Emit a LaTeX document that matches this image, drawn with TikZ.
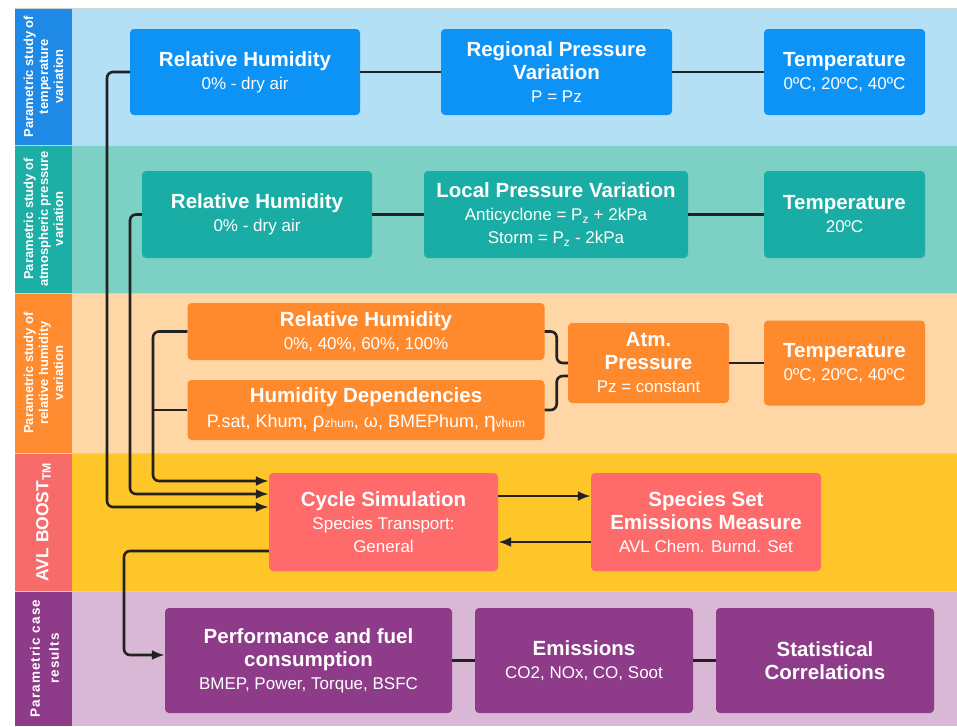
\documentclass[tikz,border=0pt]{standalone}
\usepackage{fontspec}
\setmainfont{Liberation Sans}
\usetikzlibrary{arrows.meta}

\definecolor{bandblue}{HTML}{B3E0F5}
\definecolor{stripblue}{HTML}{1E8AE6}
\definecolor{boxblue}{HTML}{0D93F5}
\definecolor{bandteal}{HTML}{7DD0C4}
\definecolor{stripteal}{HTML}{1DAEA6}
\definecolor{boxteal}{HTML}{1AADA5}
\definecolor{bandpeach}{HTML}{FFD7A6}
\definecolor{striporange}{HTML}{FF8B30}
\definecolor{boxorange}{HTML}{FF8A2D}
\definecolor{bandyellow}{HTML}{FFC629}
\definecolor{stripsalmon}{HTML}{F76B6B}
\definecolor{boxsalmon}{HTML}{FF6A6B}
\definecolor{bandlilac}{HTML}{D8B8D5}
\definecolor{strippurple}{HTML}{8E3B8A}
\definecolor{boxpurple}{HTML}{8E3B8A}
\definecolor{linkgray}{HTML}{222222}

\newcommand{\boxtitle}{\fontsize{20.5}{23}\selectfont\bfseries}
\newcommand{\subline}[1]{{\fontsize{17}{22}\selectfont\mdseries #1}}
\newcommand{\smallsub}[1]{{\fontsize{12}{12}\selectfont #1}}

\tikzset{
	box/.style={rounded corners=4pt, text=white, align=center, inner sep=2pt, font=\boxtitle},
	bluebox/.style={box, fill=boxblue},
	tealbox/.style={box, fill=boxteal},
	orangebox/.style={box, fill=boxorange},
	salmonbox/.style={box, fill=boxsalmon},
	purplebox/.style={box, fill=boxpurple},
	link/.style={draw=linkgray, line width=2.6pt},
	flow/.style={link, rounded corners=6pt, -{Latex[length=13pt,width=10pt]}},
	striplabel/.style={rotate=90, text=white, align=center, font=\fontsize{13}{15}\selectfont\bfseries},
	sepline/.style={draw=black!18, line width=0.8pt},
}

\begin{document}
\begin{tikzpicture}[x=1pt,y=-1pt]
	\useasboundingbox[fill=white] (0,0) rectangle (957,726);

	% bands and side strips
	\foreach \top/\bot/\bg/\st in {8/145/bandblue/stripblue, 145/293/bandteal/stripteal, 293/453/bandpeach/striporange, 453/591/bandyellow/stripsalmon, 591/726/bandlilac/strippurple} {
		\fill[\bg] (72,\top) rectangle (957,\bot);
		\fill[\st] (15,\top) rectangle (72,\bot);
		\draw[sepline] (15,\top) -- (957,\top);
	}

	\node (labtemp) [striplabel] at (43.5,76.5) {Parametric study of\\temperature\\variation};
	\node (labpress) [striplabel] at (43.5,219) {Parametric study of\\atmospheric pressure\\variation};
	\node (labhum) [striplabel] at (43.5,373) {Parametric study of\\relative humidity\\variation};
	\node (labboost) [striplabel, font=\fontsize{17.5}{22}\selectfont\bfseries] at (43.5,522) {AVL BOOST\textsubscript{TM}};
	\node (labresults) [striplabel, font=\fontsize{13.5}{19}\selectfont\bfseries\addfontfeature{LetterSpace=8}] at (44.5,658.5) {Parametric case\\results};

	% temperature variation
	\node (rhone) [bluebox, minimum width=230pt, minimum height=86pt] at (245,72) {Relative Humidity\\\subline{0\% - dry air}};
	\node (regional) [bluebox, minimum width=231pt, minimum height=86pt] at (556.5,72) {Regional Pressure\\Variation\\\subline{P = Pz}};
	\node (tempone) [bluebox, minimum width=161pt, minimum height=86pt] at (844.5,72) {Temperature\\\subline{0ºC, 20ºC, 40ºC}};

	% pressure variation
	\node (rhtwo) [tealbox, minimum width=230pt, minimum height=87pt] at (257,214.5) {Relative Humidity\\\subline{0\% - dry air}};
	\node (local) [tealbox, minimum width=264pt, minimum height=87pt] at (556,214.5) {Local Pressure Variation\\\subline{Anticyclone = P\textsubscript{z} + 2kPa}\\\subline{Storm = P\textsubscript{z} - 2kPa}};
	\node (temptwo) [tealbox, minimum width=161pt, minimum height=87pt] at (844.5,214.5) {Temperature\\\subline{20ºC}};

	% humidity variation
	\node (rhthree) [orangebox, minimum width=357pt, minimum height=57pt] at (366,331.5) {Relative Humidity\\\subline{0\%, 40\%, 60\%, 100\%}};
	\node (humdep) [orangebox, minimum width=357pt, minimum height=60pt] at (366,410) {Humidity Dependencies\\[2pt]{\fontsize{18}{22}\selectfont\mdseries P.sat, Khum, {\fontsize{21}{22}\selectfont ρ}\smallsub{zhum}, ω, BMEPhum, {\fontsize{21}{22}\selectfont η}\smallsub{vhum}}};
	\node (atm) [orangebox, minimum width=161pt, minimum height=80pt] at (648.5,363) {Atm.\\Pressure\\\subline{Pz = constant}};
	\node (tempthree) [orangebox, minimum width=161pt, minimum height=85pt] at (844.5,363) {Temperature\\\subline{0ºC, 20ºC, 40ºC}};

	% boost
	\node (cycle) [salmonbox, minimum width=229pt, minimum height=98pt] at (383.5,522) {Cycle Simulation\\\subline{Species Transport:}\\\subline{General}};
	\node (species) [salmonbox, minimum width=230pt, minimum height=98pt] at (706,522) {Species Set\\Emissions Measure\\\subline{AVL Chem. Burnd. Set}};

	% results
	\node (perf) [purplebox, minimum width=287pt, minimum height=105pt] at (308.5,660.5) {Performance and fuel\\consumption\\\subline{BMEP, Power, Torque, BSFC}};
	\node (emis) [purplebox, minimum width=218pt, minimum height=105pt] at (584,660.5) {Emissions\\\subline{CO2, NOx, CO, Soot}};
	\node (stat) [purplebox, minimum width=218pt, minimum height=105pt] at (825,660.5) {Statistical\\Correlations};

	% connectors
	\draw[link] (rhone) -- (regional) -- (tempone);
	\draw[link] (rhtwo) -- (local) -- (temptwo);
	\draw[link] (atm) -- (tempthree);
	\draw[link, rounded corners=6pt] (rhthree.east) -- ++(12,0) |- (atm.west);
	\draw[link, rounded corners=6pt] (humdep.east) -- ++(12,0) |- ([yshift=-13pt]atm.west);
	\draw[link] (humdep.west) -- (153,410);
	\draw[flow] (rhone.west) -| (107,507) -- ([yshift=15pt]cycle.west);
	\draw[flow] (rhtwo.west) -| (130,494) -- ([yshift=28pt]cycle.west);
	\draw[flow] (rhthree.west) -| (153,481) -- ([yshift=41pt]cycle.west);
	\draw[flow] ([yshift=26pt]cycle.east) -- ([yshift=26pt]species.west);
	\draw[flow] ([yshift=-20pt]species.west) -- ([yshift=-20pt]cycle.east);
	\draw[flow] ([yshift=-29pt]cycle.west) -| (124,655) -- ([yshift=5.5pt]perf.west);
	\draw[link] (perf) -- (emis) -- (stat);
\end{tikzpicture}
\end{document}
